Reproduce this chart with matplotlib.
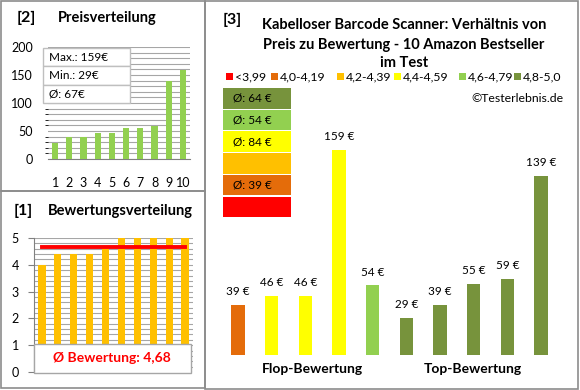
import matplotlib
matplotlib.use("Agg")
from matplotlib import pyplot as plt
from matplotlib.patches import Rectangle
import numpy as np

# data
ranks = list(range(1, 11))
prices_sorted = [29, 39, 39, 46, 46, 55, 55, 59, 139, 159]
price_info = ["Max.: 159€", "Min.: 29€", "Ø: 67€"]
ratings_sorted = [4.0, 4.4, 4.4, 4.4, 4.6, 5.0, 5.0, 5.0, 5.0, 5.0]
avg_rating = 4.68
flop_prices = [39, 46, 46, 159, 54]
flop_colors = ["#E46C0A", "#FFFF00", "#FFFF00", "#FFFF00", "#92D050"]
top_prices = [29, 39, 55, 59, 139]
top_colors = ["#77933C"] * 5
legend_labels = ["<3,99", "4,0-4,19", "4,2-4,39", "4,4-4,59", "4,6-4,79", "4,8-5,0"]
legend_colors = ["#FF0000", "#E46C0A", "#FFC000", "#FFFF00", "#92D050", "#77933C"]
avg_box_labels = ["Ø: 64 €", "Ø: 54 €", "Ø: 84 €", "", "Ø: 39 €", ""]
avg_box_colors = ["#77933C", "#92D050", "#FFFF00", "#FFC000", "#E46C0A", "#FF0000"]

plt.rcParams['font.family'] = ['Lato', 'DejaVu Sans']
W, H = 580, 390
fig = plt.figure(figsize=(5.8, 3.9), dpi=100)
fig.patch.set_facecolor("white")


def rect(x0, y0, x1, y1):
    return [x0 / W, 1 - y1 / H, (x1 - x0) / W, (y1 - y0) / H]


def fx(x):
    return x / W


def fy(y):
    return 1 - y / H


border = "#8C8C8C"
# panel frames
for (x0, y0, x1, y1) in [(1, 1, 205, 191), (1, 191, 205, 388), (205, 1, 578, 389)]:
    fig.patches.append(Rectangle((fx(x0), fy(y1)), fx(x1) - fx(x0), fy(y0) - fy(y1),
                                 transform=fig.transFigure, fill=False,
                                 edgecolor=border, lw=1.2))

grid_col = "#A6A6A6"

# [2] Preisverteilung
fig.text(fx(17), fy(18), "[2]", fontsize=11.5, fontweight="bold", va="center")
fig.text(fx(58), fy(18), "Preisverteilung", fontsize=10.5, fontweight="bold", va="center")
ax1 = fig.add_axes(rect(48, 47, 190, 159))
ax1.bar(ranks, prices_sorted, width=0.45, color="#92D050", zorder=3)
ax1.set_xlim(0.5, 10.5)
ax1.set_ylim(0, 200)
ax1.set_yticks([0, 50, 100, 150, 200])
ax1.set_yticks(np.arange(0, 201, 10), minor=True)
ax1.grid(axis="y", which="both", color=grid_col, lw=0.8, zorder=0)
ax1.set_xticks(ranks)
ax1.tick_params(axis="both", length=0, labelsize=9)
ax1.tick_params(axis="y", pad=11)
ax1.tick_params(axis="x", pad=13)
for s in ["top", "right", "left"]:
    ax1.spines[s].set_visible(False)
ax1.spines["bottom"].set_color("#808080")
# info box
for i, t in enumerate(price_info):
    y0 = 48 + i * 18.3
    fig.patches.append(Rectangle((fx(43), fy(y0 + 18.3)), fx(130) - fx(43), fy(y0) - fy(y0 + 18.3),
                                 transform=fig.transFigure, facecolor="white",
                                 edgecolor="#BFBFBF", lw=1, zorder=5))
    fig.text(fx(49), fy(y0 + 9.5), t, fontsize=8.5, va="center", zorder=6)

# [1] Bewertungsverteilung
fig.text(fx(14), fy(211), "[1]", fontsize=11.5, fontweight="bold", va="center")
fig.text(fx(48), fy(211), "Bewertungsverteilung", fontsize=10.5, fontweight="bold", va="center")
ax2 = fig.add_axes(rect(34, 238, 193, 372))
ax2.bar(ranks, ratings_sorted, width=0.45, color="#FFC000", zorder=3)
ax2.plot([1, 10], [avg_rating, avg_rating], color="#FF0000", lw=2.8, zorder=4)
ax2.set_xlim(0.5, 10.5)
ax2.set_ylim(0, 5)
ax2.set_yticks([0, 1, 2, 3, 4, 5])
ax2.set_yticks(np.arange(0, 5.01, 0.2), minor=True)
ax2.grid(axis="y", which="both", color=grid_col, lw=0.8, zorder=0)
ax2.set_xticks([])
ax2.tick_params(axis="y", which="major", length=4, color="#808080", labelsize=9, pad=7)
ax2.tick_params(axis="y", which="minor", length=0)
for s in ["top", "right", "bottom"]:
    ax2.spines[s].set_visible(False)
ax2.spines["left"].set_color("#808080")
fig.patches.append(Rectangle((fx(34), fy(373)), fx(191) - fx(34), fy(344) - fy(373),
                             transform=fig.transFigure, facecolor="white",
                             edgecolor="#A6A6A6", lw=1, zorder=5))
fig.text(fx(112), fy(358), "Ø Bewertung: " + f"{avg_rating:.2f}".replace(".", ","),
         fontsize=10, fontweight="bold", color="#FF0000", ha="center", va="center", zorder=6)

# [3] right panel
fig.text(fx(223), fy(20), "[3]", fontsize=11.5, fontweight="bold", va="center")
title_lines = ["Kabelloser Barcode Scanner: Verhältnis von",
               "Preis zu Bewertung - 10 Amazon Bestseller",
               "im Test"]
for t, y in zip(title_lines, [25, 45, 63]):
    fig.text(fx(404), fy(y), t, fontsize=10.5, fontweight="bold", ha="center", va="center")

legend_x = [226, 271, 337, 394, 459, 514]
for x, lab, col in zip(legend_x, legend_labels, legend_colors):
    fig.patches.append(Rectangle((fx(x), fy(80)), fx(7), 7 / H, transform=fig.transFigure,
                                 facecolor=col, edgecolor="none"))
    fig.text(fx(x + 9), fy(76.5), lab, fontsize=8.8, va="center")
fig.text(fx(563), fy(98), "©Testerlebnis.de", fontsize=8.8, ha="right", va="center")

for i, (lab, col) in enumerate(zip(avg_box_labels, avg_box_colors)):
    y0 = 88 + i * 21.7
    fig.patches.append(Rectangle((fx(223), fy(y0 + 20.5)), fx(291) - fx(223), 20.5 / H,
                                 transform=fig.transFigure, facecolor=col, edgecolor="none"))
    if lab:
        fig.text(fx(233), fy(y0 + 10.5), lab, fontsize=8.5, va="center")

ax3 = fig.add_axes(rect(221, 100, 558, 355))
all_prices = flop_prices + top_prices
all_colors = flop_colors + top_colors
xs = np.arange(1, 11)
ax3.bar(xs, all_prices, width=0.4, color=all_colors)
for x, v in zip(xs, all_prices):
    ax3.text(x, v + 6, f"{v} €", fontsize=8.5, ha="center", va="bottom")
ax3.set_xlim(0.5, 10.5)
ax3.set_ylim(0, 198)
ax3.axis("off")
fig.text(fx(312), fy(369), "Flop-Bewertung", fontsize=10, fontweight="bold", ha="center", va="center")
fig.text(fx(473), fy(369), "Top-Bewertung", fontsize=10, fontweight="bold", ha="center", va="center")

fig.savefig("out.png", dpi=100, facecolor="white")
